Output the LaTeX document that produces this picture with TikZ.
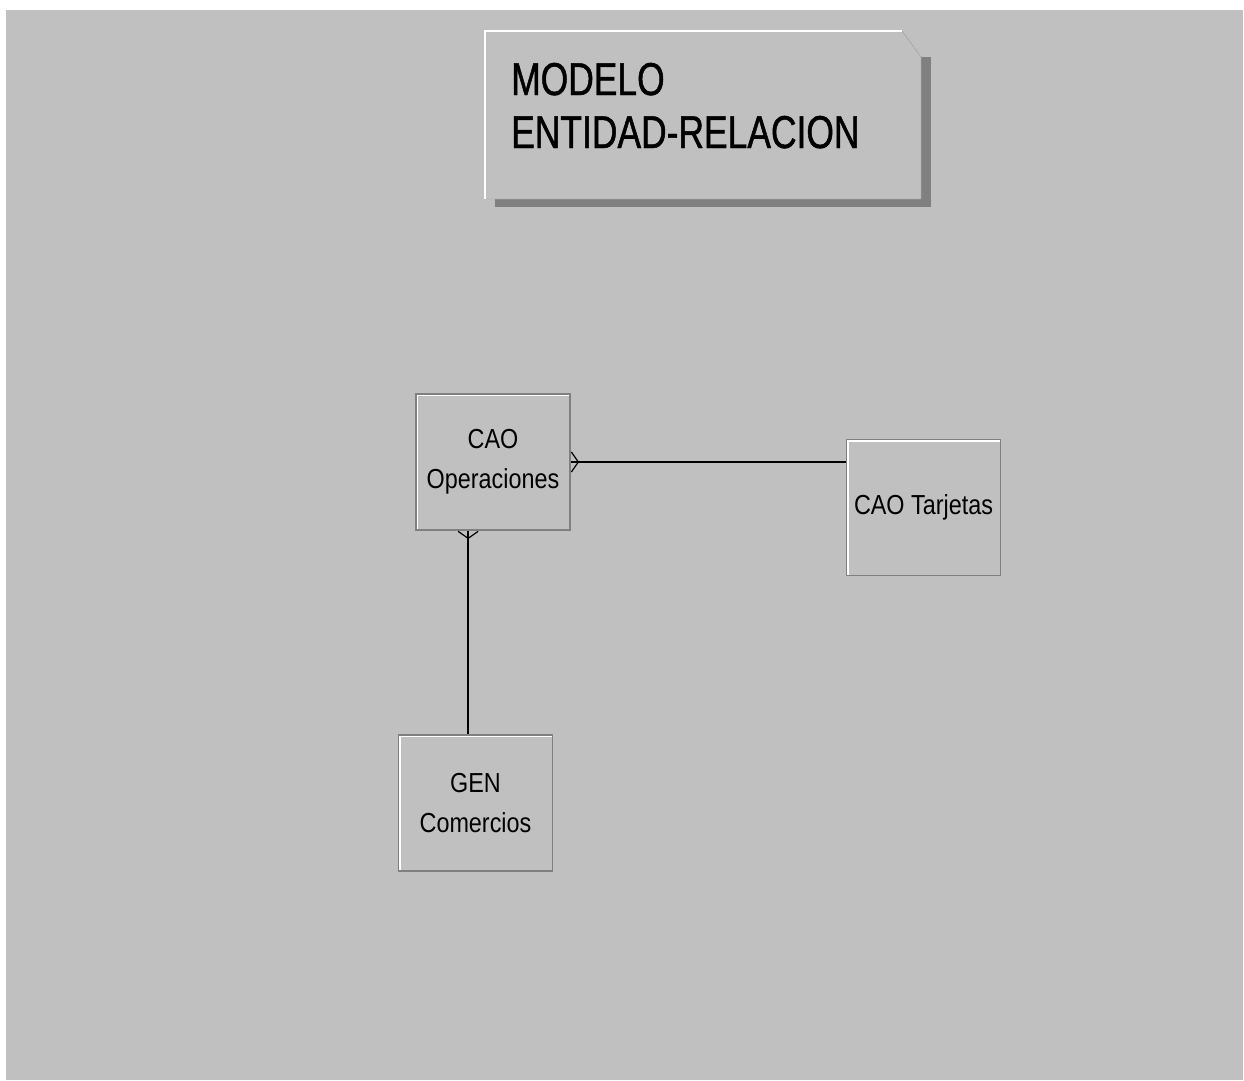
\documentclass[tikz,border=0pt]{standalone}
\usepackage{fontspec}
\setmainfont{Liberation Sans}
\newfontfamily\entfont[FakeStretch=0.85]{Liberation Sans}
\newfontfamily\notefont[FakeStretch=0.77, FakeBold=1]{Liberation Sans}
\usetikzlibrary{arrows.meta,positioning,calc}
\definecolor{winbg}{RGB}{192,192,192}
\definecolor{winshadow}{RGB}{128,128,128}

\begin{document}
\begin{tikzpicture}[x=1pt, y=-1pt,
entity/.style={draw=winshadow, line width=1.5pt, fill=winbg, minimum width=154pt, minimum height=136pt, inner sep=0pt, align=center,
  font=\entfont\fontsize{27.5}{40}\selectfont,
  path picture={\draw[white, line width=4pt] (path picture bounding box.south west) -- (path picture bounding box.north west) -- (path picture bounding box.north east);}},
notetext/.style={align=left, inner sep=0pt, font=\notefont\fontsize{46}{53}\selectfont},
rel/.style={line width=2pt, black},
crow/.style={postaction={draw, line width=1.2pt, {Straight Barb[reversed, length=7pt, width=20pt]}-}}
]
\useasboundingbox (0,0) rectangle (1244,1080);
\fill[white] (0,0) rectangle (1244,1080);
\fill[winbg] (6,10) rectangle (1243,1080);

% title note
\fill[winshadow] (495,57) rectangle (931,207);
\filldraw[fill=winbg, draw=gray!80] (485,31) -- (902,31) -- (921,57) -- (921,199) -- (485,199) -- cycle;
\draw[white, line width=2pt] (485,199) -- (485,31) -- (902,31);
\node[notetext, anchor=base west] (title) at (511,148) {MODELO\\ENTIDAD-RELACION};

% entities
\node[entity] (ops) at (493,462) {CAO\\Operaciones};
\node[entity] (tarj) at (923.5,507.5) {CAO Tarjetas};
\node[entity] (gen) at (475.5,803) {GEN\\Comercios};

\coordinate (opsfoot) at ($(ops.south west)!0.34!(ops.south east)$);
\draw[rel, crow] (ops.east) -- (ops.east -| tarj.west);
\draw[rel, crow] (opsfoot) -- (opsfoot |- gen.north);
\end{tikzpicture}
\end{document}
